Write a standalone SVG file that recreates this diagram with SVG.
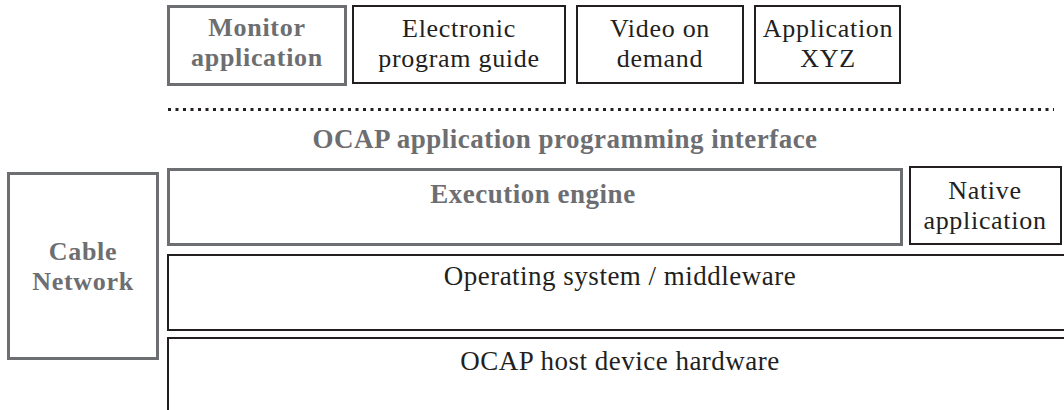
<svg xmlns="http://www.w3.org/2000/svg" width="1064" height="410" viewBox="0 0 1064 410" font-family="Liberation Serif, Times New Roman, serif">
<style>
.g{fill:#fff;stroke:#6d6e71;stroke-width:3}
.d{fill:#fff;stroke:#231f20;stroke-width:2}
text{font-size:27px;letter-spacing:0.5px;text-anchor:middle;fill:#231f20}
.t{font-size:26px;letter-spacing:0.7px}
.b{font-weight:bold;fill:#6d6e71}
</style>
<rect width="1064" height="410" fill="#fff"/>
<g id="monitor"><rect class="g" x="168.5" y="6.5" width="177" height="78"/><text class="b t" x="257" y="36">Monitor</text><text class="b t" x="257" y="66">application</text></g>
<g id="epg"><rect class="d" x="353" y="6" width="212" height="77"/><text class="t" x="459" y="37">Electronic</text><text class="t" x="459" y="67">program guide</text></g>
<g id="vod"><rect class="d" x="577" y="6" width="166" height="77"/><text class="t" x="660" y="37">Video on</text><text class="t" x="660" y="67">demand</text></g>
<g id="appxyz"><rect class="d" x="755" y="6" width="145" height="77"/><text class="t" x="828" y="37">Application</text><text class="t" x="828" y="67">XYZ</text></g>
<g id="connectors"><line x1="168" y1="109.5" x2="1054" y2="109.5" stroke="#231f20" stroke-width="3" stroke-dasharray="3 4.5"/></g>
<g id="api"><text class="b" x="565" y="148">OCAP application programming interface</text></g>
<g id="exec"><rect class="g" x="168.5" y="169.5" width="733" height="75"/><text class="b" x="533" y="203">Execution engine</text></g>
<g id="native"><rect class="d" x="910" y="167" width="151" height="77"/><text class="t" x="985" y="199">Native</text><text class="t" x="985" y="229">application</text></g>
<g id="cable"><rect class="g" x="8.5" y="173.5" width="149" height="185"/><text class="b t" x="83" y="260">Cable</text><text class="b t" x="83" y="290">Network</text></g>
<g id="os"><rect class="d" x="168" y="255" width="900" height="75"/><text x="620" y="285">Operating system / middleware</text></g>
<g id="hw"><rect class="d" x="168" y="338" width="900" height="100"/><text x="620" y="370">OCAP host device hardware</text></g>
</svg>
